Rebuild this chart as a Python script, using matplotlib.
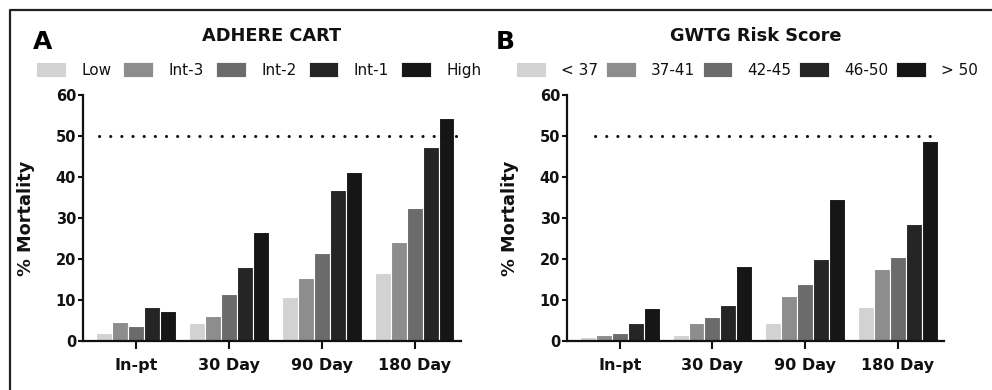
import matplotlib
matplotlib.use("Agg")
import matplotlib.pyplot as plt
from matplotlib.lines import Line2D
from matplotlib.patches import Patch
import numpy as np

# ---------------- data ----------------
categories = ["In-pt", "30 Day", "90 Day", "180 Day"]

labels_a = ["Low", "Int-3", "Int-2", "Int-1", "High"]
values_a = [
    [1.8, 4.3, 10.7, 16.5],    # Low
    [4.5, 6.1, 15.3, 24.2],    # Int-3
    [3.6, 11.4, 21.4, 32.5],   # Int-2
    [8.3, 18.1, 36.8, 47.4],   # Int-1
    [7.3, 26.5, 41.2, 54.3],   # High
]

labels_b = ["< 37", "37-41", "42-45", "46-50", "> 50"]
values_b = [
    [0.9, 1.4, 4.3, 8.2],      # < 37
    [1.3, 4.4, 10.8, 17.4],    # 37-41
    [1.9, 5.9, 13.9, 20.5],    # 42-45
    [4.3, 8.6, 20.0, 28.5],    # 46-50
    [8.1, 18.3, 34.6, 48.8],   # > 50
]

reference_line = 50
y_ticks = [0, 10, 20, 30, 40, 50, 60]

colors = ["#d2d2d2", "#8d8d8d", "#6b6b6b", "#252525", "#161616"]

# ---------------- figure ----------------
W, H = 992, 390
fig = plt.figure(figsize=(W / 100, H / 100), dpi=100)
plt.rcParams['font.family'] = ['DejaVu Sans']

def fx(px):
    return px / W

def fy(py):
    return 1 - py / H

ax_bottom = fy(340.7)
ax_height = (340.7 - 95) / H

panels = [
    dict(left=83, width=378, title="ADHERE CART", letter="A", letter_x=33,
         labels=labels_a, values=values_a, legend_x=36, dot_start=-0.4, colsp=0.8),
    dict(left=567, width=377, title="GWTG Risk Score", letter="B", letter_x=496,
         labels=labels_b, values=values_b, legend_x=516, dot_start=-0.27, colsp=0.5),
]

bar_w = 0.172
x = np.arange(len(categories))

for p in panels:
    ax = fig.add_axes([fx(p["left"]), ax_bottom, p["width"] / W, ax_height])
    n = len(p["labels"])
    handles = []
    for i, (lab, vals) in enumerate(zip(p["labels"], p["values"])):
        ax.bar(x + (i - (n - 1) / 2) * bar_w, vals, width=bar_w,
               color=colors[i], edgecolor="white", linewidth=0.8, zorder=2)
        handles.append(Patch(facecolor=colors[i], edgecolor="white", linewidth=0.6, label=lab))

    ax.hlines(reference_line, p["dot_start"], 3.46, colors="#111111",
              linestyles=(0, (0.05, 3.6)), linewidth=2.2, capstyle="round", zorder=3)

    ax.set_xlim(-0.57, 3.5)
    ax.set_ylim(0, 60)
    ax.set_yticks(y_ticks)
    ax.set_xticks(x)
    ax.set_xticklabels(categories)

    for s in ["top", "right"]:
        ax.spines[s].set_visible(False)
    for s in ["left", "bottom"]:
        ax.spines[s].set_linewidth(1.6)
        ax.spines[s].set_color("#111111")

    ax.tick_params(axis="y", direction="out", length=3.5, width=1.5, pad=1.5,
                   labelsize=10.5, colors="#111111")
    ax.tick_params(axis="x", direction="out", length=5.5, width=1.5, pad=7,
                   labelsize=11.5, colors="#111111")
    for t in ax.get_xticklabels() + ax.get_yticklabels():
        t.set_fontweight("bold")

    ax.set_ylabel("% Mortality", fontsize=12.8, fontweight="bold", color="#111111")
    ax.yaxis.set_label_coords(-0.127, 0.5)

    # title centred on the axes
    cx = fx(p["left"] + p["width"] / 2)
    fig.text(cx, fy(36), p["title"], ha="center", va="center",
             fontsize=12.8, fontweight="bold", color="#111111")
    fig.text(fx(p["letter_x"]), fy(42), p["letter"], ha="left", va="center",
             fontsize=18, fontweight="bold", color="#000000")

    leg = fig.legend(handles=handles, loc="center left",
                     bbox_to_anchor=(fx(p["legend_x"]), fy(70)),
                     ncol=n, frameon=False, fontsize=11,
                     handlelength=1.95, handleheight=1.1, handletextpad=1.0,
                     columnspacing=p["colsp"], borderpad=0, borderaxespad=0)
    for t in leg.get_texts():
        t.set_color("#111111")

# outer frame (left and top edges visible)
fig.add_artist(Line2D([fx(10), fx(10), 1.0], [0.0, fy(10), fy(10)],
                      transform=fig.transFigure, color="#222222", linewidth=1.6))

fig.savefig("out.png", dpi=100)
